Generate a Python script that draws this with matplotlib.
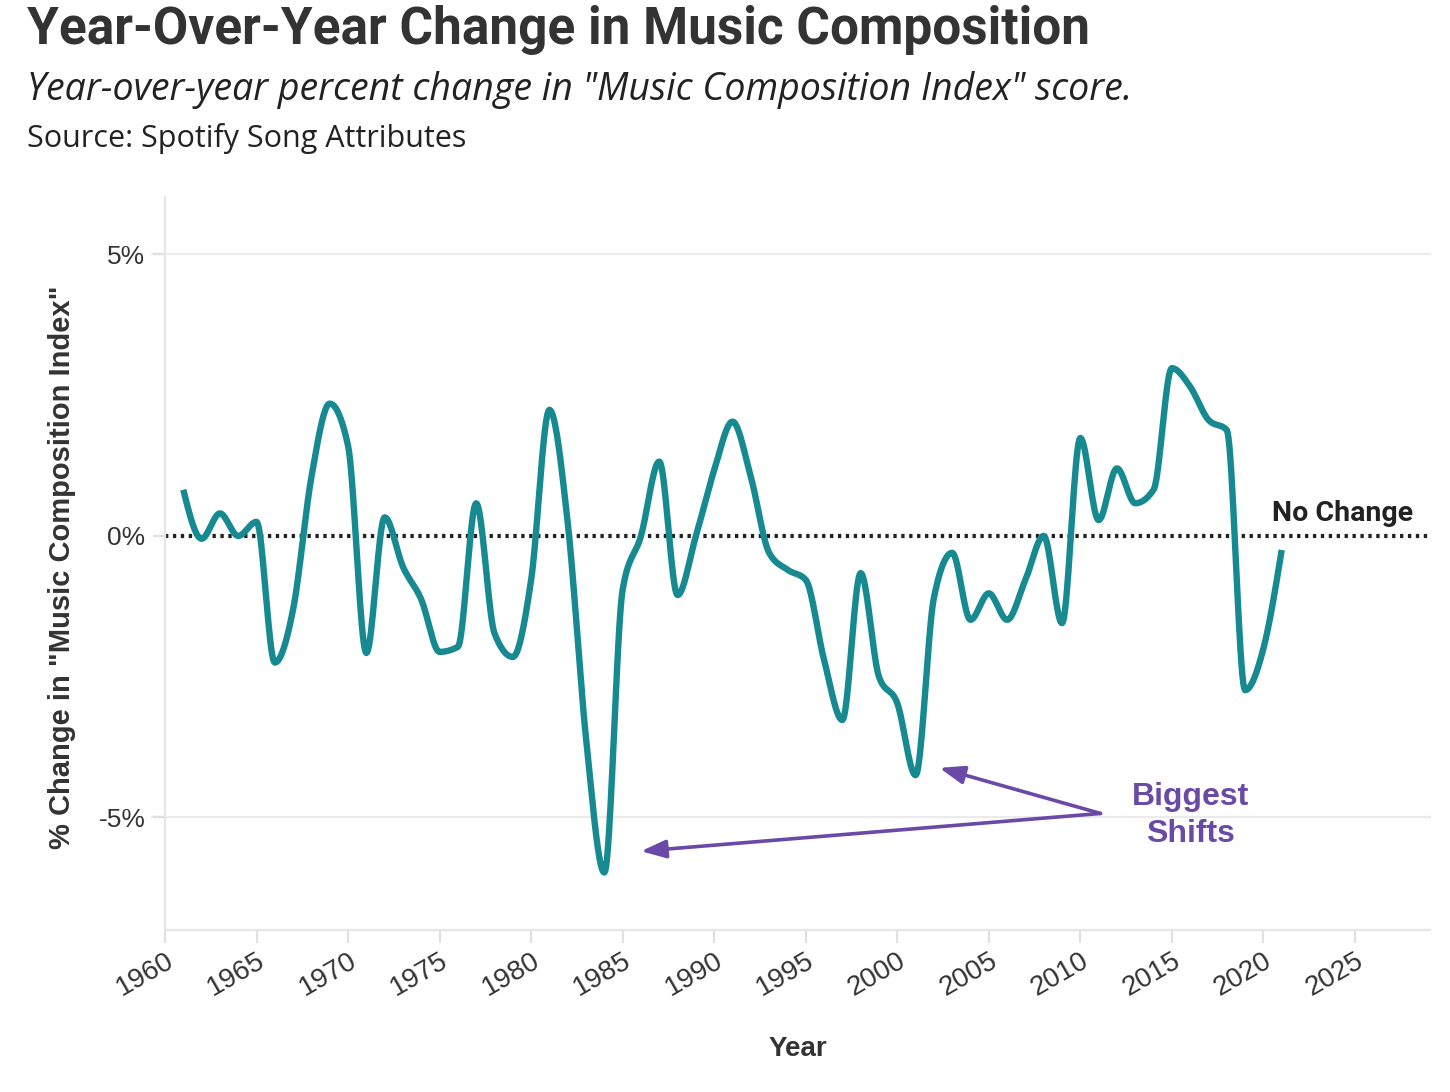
import numpy as np
import matplotlib
import matplotlib.pyplot as plt
from matplotlib.ticker import FuncFormatter, FixedLocator

matplotlib.use('agg')

# yearly percent change
years = list(range(1961, 2022))
pct_change = [
    0.82, -0.05, 0.40, 0.00, 0.25, -2.25, -1.30, 1.05, 2.35, 1.60,
    -2.08, 0.33, -0.55, -1.13, -2.06, -1.97, 0.58, -1.73, -2.15, -0.78,
    2.24, 0.23, -3.60, -5.98, -0.95, 0.00, 1.32, -1.05, 0.00, 1.17,
    2.03, 1.05, -0.30, -0.60, -0.78, -2.20, -3.27, -0.66, -2.50, -2.97,
    -4.25, -1.10, -0.30, -1.49, -1.02, -1.49, -0.78, 0.00, -1.55, 1.74,
    0.28, 1.20, 0.58, 0.82, 2.98, 2.65, 2.06, 1.88, -2.74, -2.00,
    -0.25,
]
x_ticks = list(range(1960, 2030, 5))
y_ticks = [-5, 0, 5]

TEAL = '#168a90'
PURPLE = '#6a4aa6'
DARK = '#333333'


def monotone_x(x, y, n=20):
    # d3 curveMonotoneX style smoothing for drawing only
    x = np.asarray(x, float)
    y = np.asarray(y, float)
    h = np.diff(x)
    s = np.diff(y) / h
    m = np.zeros_like(y)
    for i in range(1, len(y) - 1):
        if s[i - 1] * s[i] <= 0:
            m[i] = 0
        else:
            p = (s[i - 1] * h[i] + s[i] * h[i - 1]) / (h[i - 1] + h[i])
            m[i] = (np.sign(s[i - 1]) + np.sign(s[i])) * min(
                abs(s[i - 1]), abs(s[i]), 0.5 * abs(p))
    m[0] = (3 * s[0] - m[1]) / 2 if len(y) > 2 else s[0]
    m[-1] = (3 * s[-1] - m[-2]) / 2 if len(y) > 2 else s[-1]
    xs, ys = [], []
    for i in range(len(h)):
        t = np.linspace(0, 1, n, endpoint=False)
        h00 = 2 * t**3 - 3 * t**2 + 1
        h10 = t**3 - 2 * t**2 + t
        h01 = -2 * t**3 + 3 * t**2
        h11 = t**3 - t**2
        xs.append(x[i] + t * h[i])
        ys.append(h00 * y[i] + h10 * h[i] * m[i] + h01 * y[i + 1] + h11 * h[i] * m[i + 1])
    xs.append([x[-1]])
    ys.append([y[-1]])
    return np.concatenate(xs), np.concatenate(ys)


fig = plt.figure(figsize=(14.5, 10.92), dpi=100)
ax = fig.add_axes([165 / 1450, 1 - 930 / 1092, (1430 - 165) / 1450, (930 - 197) / 1092])

ax.set_xlim(1960, 2029.1)
ax.set_ylim(-7.0, 6.02)

for v in y_ticks:
    if v != 0:
        ax.axhline(v, color='#ebebeb', lw=1.6, zorder=0, xmin=-0.01, clip_on=False)
ax.axhline(0, color='#222222', lw=3, ls=(0, (0.8, 1.1)), zorder=2)

xs, ys = monotone_x(years, pct_change)
ax.plot(xs, ys, color=TEAL, lw=4.6, solid_capstyle='butt', zorder=3)

for side in ['top', 'right']:
    ax.spines[side].set_visible(False)
for side in ['left', 'bottom']:
    ax.spines[side].set_color('#e6e6e6')
    ax.spines[side].set_linewidth(1.6)

ax.xaxis.set_major_locator(FixedLocator(x_ticks))
ax.yaxis.set_major_locator(FixedLocator(y_ticks))
ax.yaxis.set_major_formatter(FuncFormatter(lambda v, p: f'{int(v)}%'))
ax.tick_params(axis='both', colors='#e0e0e0', width=1.6, length=9,
               labelcolor=DARK, labelsize=20)
ax.tick_params(axis='y', pad=5, labelsize=19)
for lab in ax.get_xticklabels():
    lab.set_rotation(30)
    lab.set_ha('right')
    lab.set_rotation_mode('anchor')
    lab.set_fontfamily('Liberation Sans')
for lab in ax.get_yticklabels():
    lab.set_fontfamily('Liberation Sans')

ax.set_xlabel('Year', fontsize=20, fontweight='bold', color=DARK,
              family='Liberation Sans', labelpad=25)
ax.set_ylabel('% Change in "Music Composition Index"', fontsize=21,
              fontweight='bold', color=DARK, family='Liberation Sans')
ax.yaxis.set_label_coords(-0.070, 0.495)

ax.text(2028.2, 0.15, 'No Change', ha='right', va='bottom', fontsize=20.5,
        fontweight='bold', color='#222222', family='Roboto')

ax.text(2016.0, -4.97, 'Biggest\nShifts', ha='center', va='center',
        fontsize=23, fontweight='bold', color=PURPLE,
        family='Liberation Sans', linespacing=1.3)
arrow = dict(arrowstyle='-|>,head_length=1.5,head_width=0.55', color=PURPLE,
             lw=2.6, shrinkA=0, shrinkB=0)
ax.annotate('', xy=(1986.0, -5.6), xytext=(2011.1, -4.93), arrowprops=arrow)
ax.annotate('', xy=(2002.3, -4.12), xytext=(2011.1, -4.93), arrowprops=arrow)

fig.text(27 / 1450, 1 - 30 / 1092, 'Year-Over-Year Change in Music Composition',
         fontsize=37, fontweight='bold', color=DARK, family='Roboto',
         va='center', ha='left')
fig.text(27 / 1450, 1 - 90 / 1092,
         'Year-over-year percent change in "Music Composition Index" score.',
         fontsize=27, style='italic', color='#222222', family='Open Sans',
         va='center', ha='left')
fig.text(27 / 1450, 1 - 139 / 1092, 'Source: Spotify Song Attributes',
         fontsize=22, color='#222222', family='Open Sans', va='center', ha='left')

fig.savefig('out.png', dpi=100)
